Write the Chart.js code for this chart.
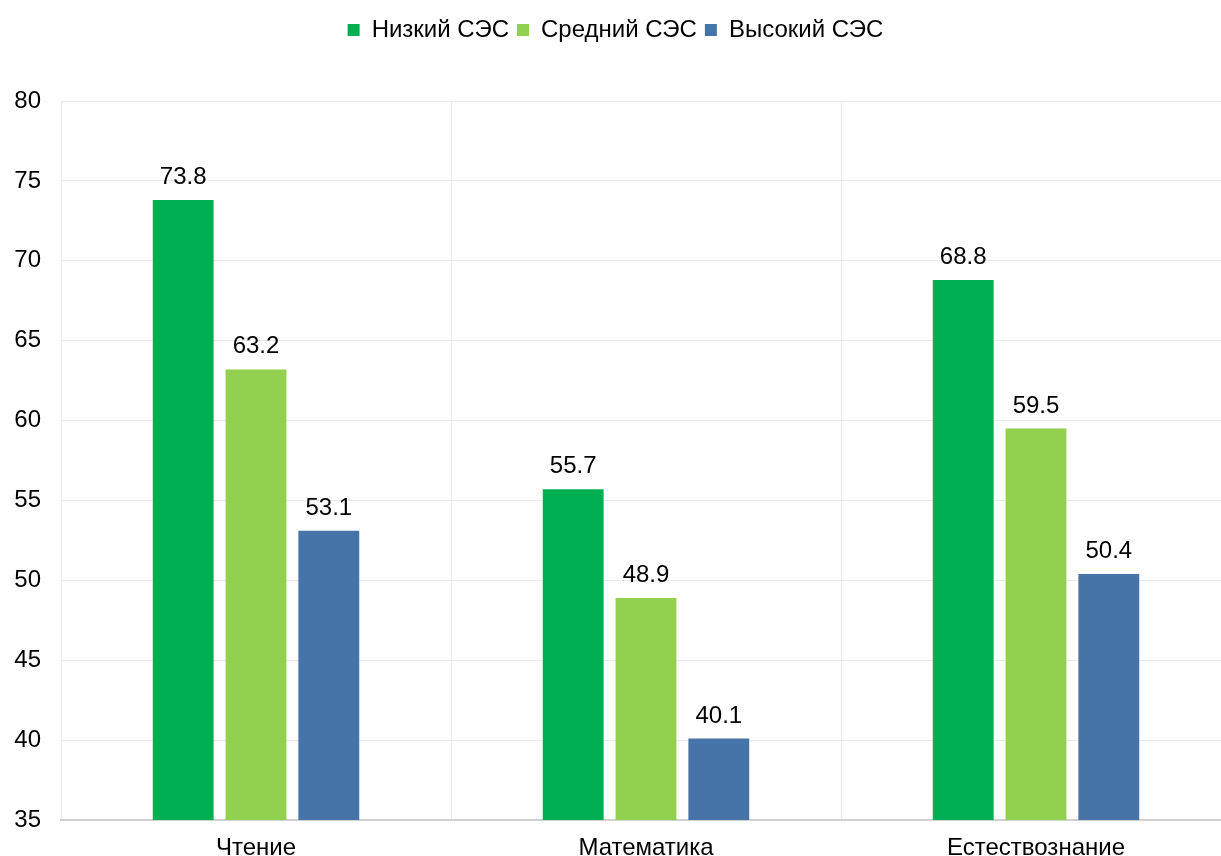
<!DOCTYPE html>
<html>
<head>
<meta charset="utf-8">
<script src="https://cdn.jsdelivr.net/npm/chart.js@4/dist/chart.umd.min.js"></script>
<style>
	html, body { margin:0; padding:0; background:#fff; overflow:hidden; }
	#wrap { width:1240px; height:870px; }
</style>
</head>
<body>
<div id="wrap"><canvas id="c" width="1240" height="870"></canvas></div>
<script>
const categories = ['Чтение', 'Математика', 'Естествознание'];
const seriesNames = ['Низкий СЭС', 'Средний СЭС', 'Высокий СЭС'];
const lowSES = [73.8, 55.7, 68.8];
const midSES = [63.2, 48.9, 59.5];
const highSES = [53.1, 40.1, 50.4];
const colors = ['#00AF50', '#92D050', '#4673A8'];
const yTicks = [35, 40, 45, 50, 55, 60, 65, 70, 75, 80];

const FONT = 'Liberation Sans, Arial, sans-serif';

// value labels above bars
const barLabels = {
	id: 'barLabels',
	afterDatasetsDraw(chart){
		const ctx = chart.ctx;
		ctx.save();
		ctx.font = '24px ' + FONT;
		ctx.fillStyle = '#000';
		ctx.textAlign = 'center';
		ctx.textBaseline = 'alphabetic';
		chart.data.datasets.forEach((ds, i) => {
			chart.getDatasetMeta(i).data.forEach((bar, j) => {
				ctx.fillText(ds.data[j].toFixed(1), bar.x, bar.y - 16);
			});
		});
		ctx.restore();
	}
};

// fixed legend block height so the plot starts lower
const legendHeight = {
	id: 'legendHeight',
	beforeLayout(chart){
		const lg = chart.legend;
		if (lg && !lg._fixed) {
			const fit = lg.fit;
			lg.fit = function(){ fit.call(this); this.height = 91; };
			lg._fixed = true;
		}
	}
};

new Chart(document.getElementById('c'), {
	type: 'bar',
	data: {
		labels: categories,
		datasets: [
			{ label: seriesNames[0], data: lowSES, backgroundColor: colors[0] },
			{ label: seriesNames[1], data: midSES, backgroundColor: colors[1] },
			{ label: seriesNames[2], data: highSES, backgroundColor: colors[2] }
		]
	},
	options: {
		responsive: false,
		animation: false,
		layout: { padding: { top: 10, left: 0, right: 9, bottom: 0 } },
		datasets: { bar: { categoryPercentage: 0.56, barPercentage: 0.836 } },
		plugins: {
			legend: {
				position: 'top',
				labels: { font: { family: FONT, size: 24 }, color: '#000', boxWidth: 12, boxHeight: 12, padding: 8 }
			},
			tooltip: { enabled: false }
		},
		scales: {
			x: {
				grid: { color: '#ebebeb', drawTicks: false },
				border: { color: '#d0d0d0', width: 2 },
				ticks: { font: { family: FONT, size: 24 }, color: '#000', padding: 14 },
				afterFit(s){ s.height = 50; }
			},
			y: {
				min: yTicks[0],
				max: yTicks[yTicks.length - 1],
				afterBuildTicks(s){ s.ticks = yTicks.map(v => ({ value: v })); },
				grid: { color: '#ebebeb', drawTicks: false },
				border: { display: false },
				ticks: { font: { family: FONT, size: 24 }, color: '#000', padding: 20 },
				afterFit(s){ s.width = 61; }
			}
		}
	},
	plugins: [barLabels, legendHeight]
});
</script>
</body>
</html>
